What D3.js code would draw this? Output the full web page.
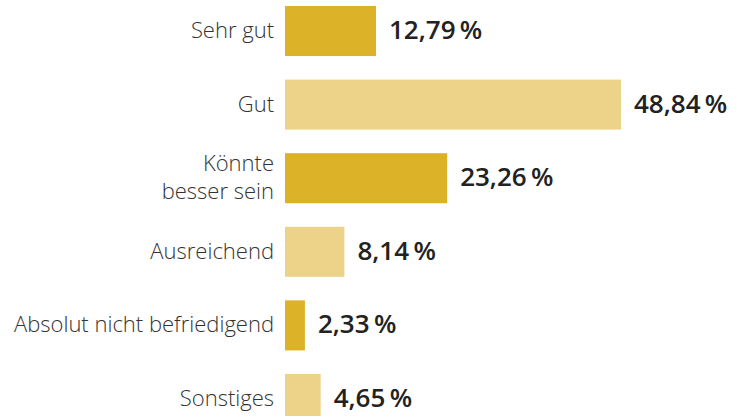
<!DOCTYPE html>
<html>
<head>
<meta charset="utf-8">
<script src="https://cdn.jsdelivr.net/npm/d3@7"></script>
<style>
  html, body { margin: 0; padding: 0; background: #fff; overflow: hidden; }
  svg { display: block; }
</style>
</head>
<body>
<div id="chart"></div>
<script>
const categories = ["Sehr gut", "Gut", "Könnte besser sein", "Ausreichend", "Absolut nicht befriedigend", "Sonstiges"];
const labelLines = [["Sehr gut"], ["Gut"], ["Könnte", "besser sein"], ["Ausreichend"], ["Absolut nicht befriedigend"], ["Sonstiges"]];
const values = [12.79, 48.84, 23.26, 8.14, 2.33, 4.65];
const colors = ["#dcb229", "#edd28a"];

const width = 740;
const height = 416;
const barLeft = 285;

// scale starts a bit below zero so tiny bars keep a few pixels
const x = d3.scaleLinear().domain([-0.6, d3.max(values)]).range([0, 336]);
const y = d3.scaleBand().domain(categories).range([6, 424]).paddingInner(0.32).paddingOuter(0);

const svg = d3.select("#chart").append("svg")
  .attr("width", width)
  .attr("height", height);

const row = svg.selectAll("g.row")
  .data(categories)
  .enter()
  .append("g")
  .attr("class", "row")
  .attr("transform", d => `translate(0, ${y(d)})`);

row.append("rect")
  .attr("x", barLeft)
  .attr("y", 0)
  .attr("width", (d, i) => x(values[i]))
  .attr("height", y.bandwidth())
  .attr("fill", (d, i) => colors[i % 2]);

// category labels
row.append("text")
  .attr("text-anchor", "end")
  .style("font-family", "'Open Sans', sans-serif")
  .style("font-weight", 300)
  .style("font-size", "22px")
  .attr("fill", "#333")
  .selectAll("tspan")
  .data((d, i) => labelLines[i].map((t, j, arr) => ({ t, j, n: arr.length })))
  .enter()
  .append("tspan")
  .attr("x", barLeft - 11)
  .attr("y", d => y.bandwidth() / 2 + 7 + (d.j - (d.n - 1) / 2) * 28)
  .text(d => d.t);

// value labels
row.append("text")
  .attr("x", (d, i) => barLeft + x(values[i]) + 13)
  .attr("y", y.bandwidth() / 2 + 8)
  .style("font-family", "'Open Sans', sans-serif")
  .style("font-weight", 600)
  .style("font-size", "26px")
  .attr("fill", "#222")
  .text((d, i) => d3.format(".2f")(values[i]).replace(".", ",") + "\u2009%");
</script>
</body>
</html>
